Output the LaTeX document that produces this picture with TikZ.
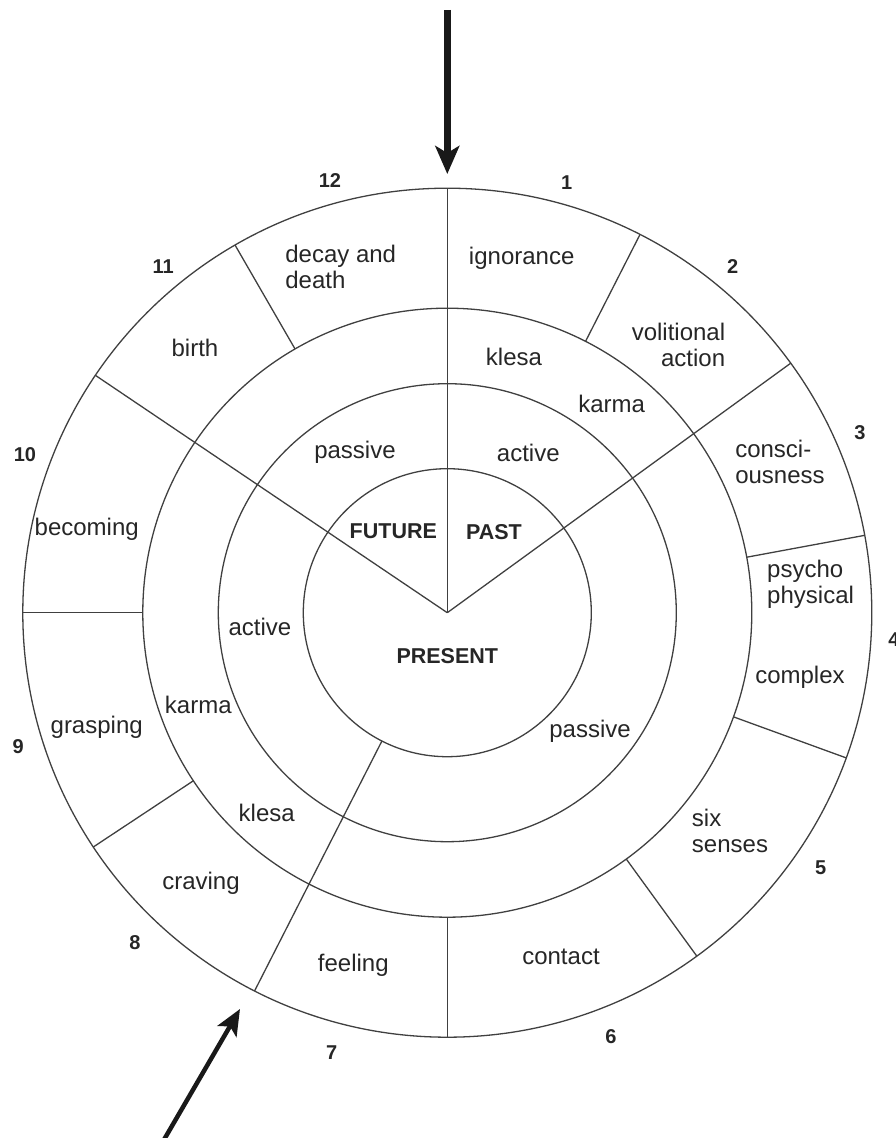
\documentclass[tikz,border=0pt]{standalone}
\usepackage{fontspec}
\setmainfont{Liberation Sans}
\usetikzlibrary{arrows.meta}

\begin{document}
\begin{tikzpicture}
  [x=1pt,y=1pt,line width=1.3pt,
   every node/.style={inner sep=0pt,text=black!85,font=\fontsize{24}{26}\selectfont},
   num/.style={font=\fontsize{20}{22}\selectfont\bfseries},
   era/.style={font=\fontsize{21.5}{24}\selectfont\bfseries},
   rim/.style={draw=black!75}]
  \useasboundingbox (-447.3,-525.3) rectangle (447.7,612.7);

  % four rings and the spokes
  \draw[rim] (0,0) circle (144) circle (229) circle (304.5) circle (424.5);
  \foreach \a in {90,36,146} \draw[rim] (0,0) -- (\a:424.5);
  \draw[rim] (243:144) -- (243:424.5);
  \foreach \a in {63,10.5,-20,-54,-90,213.5,180,120}
    \draw[rim] (\a:304.5) -- (\a:424.5);

  % centre
  \node[era] (fut) at (-54,81) {FUTURE};
  \node[era] (pst) at (46.7,81) {PAST};
  \node[era] (prs) at (0,-43.3) {PRESENT};

  % inner ring
  \node (i1) at (-92.3,160) {passive};
  \node (i2) at (81,160) {active};
  \node (i3) at (-187.3,-14) {active};
  \node (i4) at (142.7,-118.3) {passive};

  % middle ring
  \node (m1) at (66.7,256) {klesa};
  \node (m2) at (164.4,208.7) {karma};
  \node (m3) at (-249,-92.3) {karma};
  \node (m4) at (-180.6,-200.6) {klesa};

  % the twelve links
  \node (l1) at (74.4,354.4) {ignorance};
  \node[align=right] (l2) at (231.2,268) {volitional\\action};
  \node[align=left] (l3) at (332.7,150.5) {consci-\\ousness};
  \node[align=left] (l4) at (363.3,28.5) {psycho\\physical};
  \node (l4b) at (352.7,-64.6) {complex};
  \node[align=left] (l5) at (282.7,-218.3) {six\\senses};
  \node (l6) at (113.7,-344.3) {contact};
  \node (l7) at (-94,-352.3) {feeling};
  \node (l8) at (-246.3,-270.6) {craving};
  \node (l9) at (-350.6,-114.6) {grasping};
  \node (l10) at (-360.6,83.7) {becoming};
  \node (l11) at (-252.3,264.4) {birth};
  \node[align=left] (l12) at (-106.6,345.5) {decay and\\death};

  % numbers round the rim
  \node[num] (n1) at (119.4,429.7) {1};
  \node[num] (n2) at (285.4,346) {2};
  \node[num] (n3) at (412.7,180) {3};
  \node[num] (n4) at (446.7,-27.3) {4};
  \node[num] (n5) at (373.4,-254.6) {5};
  \node[num] (n6) at (163.7,-424) {6};
  \node[num] (n7) at (-115.6,-440) {7};
  \node[num] (n8) at (-312.3,-330) {8};
  \node[num] (n9) at (-429,-134) {9};
  \node[num] (n10) at (-422.3,158.4) {10};
  \node[num] (n11) at (-284,346) {11};
  \node[num] (n12) at (-117.3,432) {12};

  % entry arrows
  \coordinate (topin) at (0,602.7);
  \coordinate (topout) at (0,438.7);
  \coordinate (lowin) at (-289.8,-538.2);
  \coordinate (lowout) at (-207.3,-396.3);
  \draw[line width=7pt,black!90,arrows={-{Stealth[length=28pt,width=24pt,inset=7pt]}}] (topin) -- (topout);
  \draw[line width=4.5pt,black!90,arrows={-{Stealth[length=26pt,width=22pt,inset=6pt]}}] (lowin) -- (lowout);
\end{tikzpicture}
\end{document}
